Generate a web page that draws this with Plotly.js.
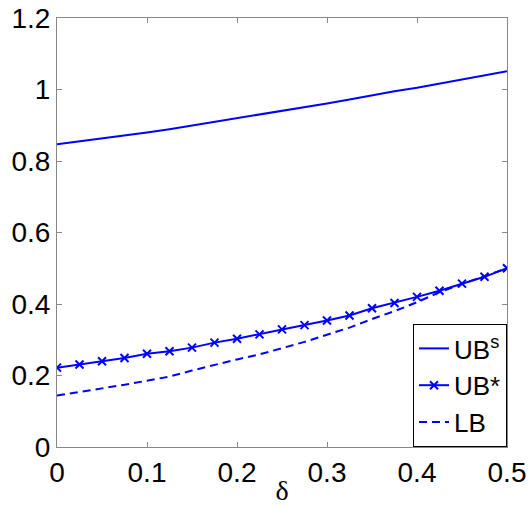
<!DOCTYPE html>
<html>
<head>
<meta charset="utf-8">
<script src="https://cdn.plot.ly/plotly-3.0.1.min.js"></script>
<style>html,body{margin:0;padding:0;background:#fff;}#plot{width:530px;height:506px;}</style>
</head>
<body>
<div id="plot"></div>
<script>
var delta = [0, 0.025, 0.05, 0.075, 0.1, 0.125, 0.15, 0.175, 0.2, 0.225, 0.25, 0.275, 0.3, 0.325, 0.35, 0.375, 0.4, 0.425, 0.45, 0.475, 0.5];
var ubS = [0.847, 0.855, 0.862, 0.871, 0.880, 0.889, 0.899, 0.909, 0.920, 0.930, 0.940, 0.950, 0.961, 0.972, 0.984, 0.995, 1.005, 1.016, 1.028, 1.039, 1.051];
var ubStar = [0.222, 0.231, 0.240, 0.249, 0.261, 0.268, 0.278, 0.292, 0.303, 0.315, 0.329, 0.341, 0.354, 0.368, 0.388, 0.403, 0.420, 0.437, 0.457, 0.476, 0.500];
var lb = [0.144, 0.153, 0.164, 0.174, 0.186, 0.197, 0.214, 0.230, 0.245, 0.259, 0.276, 0.294, 0.314, 0.334, 0.358, 0.380, 0.405, 0.433, 0.456, 0.477, 0.500];
var xTicks = [0, 0.1, 0.2, 0.3, 0.4, 0.5];
var xTickText = ['0', '0.1', '0.2', '0.3', '0.4', '0.5'];
var yTicks = [0, 0.2, 0.4, 0.6, 0.8, 1, 1.2];
var yTickText = ['0', '0.2', '0.4', '0.6', '0.8', '1', '1.2'];

var blue = '#0000ff';
var traces = [
  {x: delta, y: ubS, mode: 'lines', name: 'UB<sup>s</sup>', legendgroup: 'a', line: {color: blue, width: 2}},
  {x: delta, y: ubStar, mode: 'lines+markers', name: 'UB*', legendgroup: 'b', line: {color: blue, width: 2},
   marker: {symbol: 'x-thin', size: 8, color: blue, line: {color: blue, width: 2}}},
  {x: delta, y: lb, mode: 'lines', name: 'LB', legendgroup: 'c', line: {color: blue, width: 2, dash: '8px,5px'}}
];
var tickFont = {family: 'Liberation Sans, Arial, sans-serif', size: 28, color: '#000'};
var layout = {
  width: 530, height: 506,
  margin: {l: 57, r: 23, t: 18, b: 59},
  paper_bgcolor: '#fff', plot_bgcolor: '#fff',
  showlegend: true,
  xaxis: {range: [0, 0.5], tickvals: xTicks, ticktext: xTickText, ticks: 'inside', ticklen: 5,
    tickcolor: '#888', showline: true, linecolor: '#888', linewidth: 1, mirror: 'ticks',
    showgrid: false, zeroline: false, tickfont: tickFont, automargin: false,
    title: {text: 'δ', font: {family: 'Liberation Serif, Times New Roman, serif', size: 28, color: '#000'}, standoff: 0}},
  yaxis: {range: [0, 1.2], tickvals: yTicks, ticktext: yTickText, ticks: 'inside', ticklen: 5,
    tickcolor: '#888', showline: true, linecolor: '#888', linewidth: 1, mirror: 'ticks',
    showgrid: false, zeroline: false, tickfont: tickFont, automargin: false},
  legend: {x: 1, y: 0, xanchor: 'right', yanchor: 'bottom', bordercolor: '#000', borderwidth: 1,
    bgcolor: '#fff', traceorder: 'grouped', tracegroupgap: 0,
    font: {family: 'Liberation Sans, Arial, sans-serif', size: 26, color: '#000'}}
};
Plotly.newPlot('plot', traces, layout, {displayModeBar: false, staticPlot: true});
</script>
</body>
</html>
